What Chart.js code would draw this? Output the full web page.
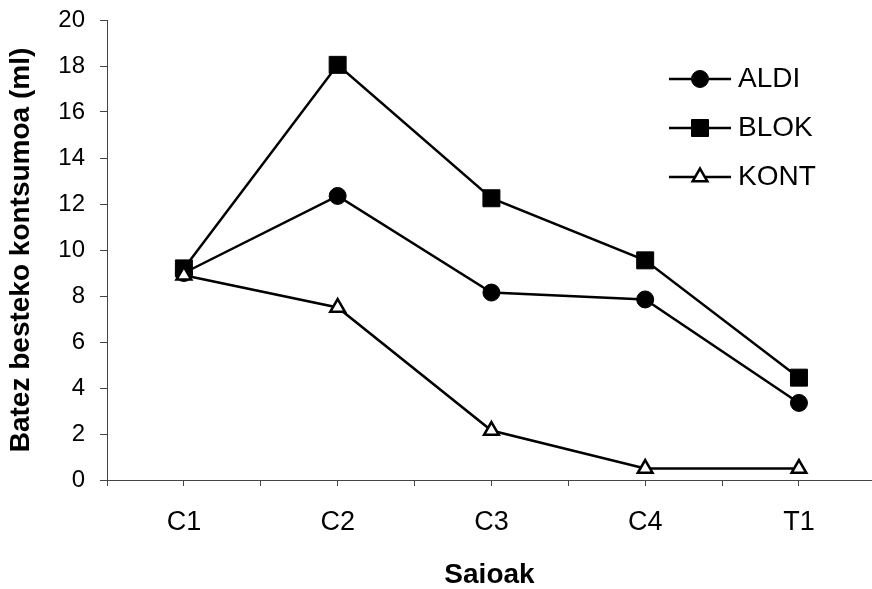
<!DOCTYPE html>
<html>
<head>
<meta charset="utf-8">
<script src="https://cdn.jsdelivr.net/npm/chart.js@4"></script>
<style>
  html, body { margin: 0; padding: 0; background: #fff; }
  #wrap { width: 872px; height: 589px; }
</style>
</head>
<body>
<div id="wrap"><canvas id="chart" width="872" height="589"></canvas></div>
<script>
const categories = ['C1', 'C2', 'C3', 'C4', 'T1'];
const aldi = [9.0, 12.35, 8.15, 7.85, 3.35];
const blok = [9.2, 18.05, 12.25, 9.55, 4.45];
const kont = [8.9, 7.5, 2.15, 0.5, 0.5];
const yTicks = [0, 2, 4, 6, 8, 10, 12, 14, 16, 18, 20];

const FONT = "'Liberation Sans', Arial, sans-serif";
const AXIS = '#444';

const toPoints = values => values.map((v, i) => ({ x: i, y: v }));

const series = [
  { label: 'ALDI', data: aldi, pointStyle: 'circle', radius: 8.5, fill: '#000', order: 2 },
  { label: 'BLOK', data: blok, pointStyle: 'rect', radius: 12, fill: '#000', order: 1 },
  { label: 'KONT', data: kont, pointStyle: 'triangle', radius: 8.5, fill: '#fff', order: 0 },
];

const datasets = series.map(s => ({
  label: s.label,
  data: toPoints(s.data),
  borderColor: '#000',
  borderWidth: 2.5,
  pointStyle: s.pointStyle,
  pointRadius: s.radius,
  pointHoverRadius: s.radius,
  pointBackgroundColor: s.fill,
  pointBorderColor: '#000',
  pointBorderWidth: s.pointStyle === 'triangle' ? 2.5 : 1,
  order: s.order,
  tension: 0,
  clip: false,
}));

// legend drawn as line + marker + text, like the original
const lineLegend = {
  id: 'lineLegend',
  afterDraw(chart) {
    const ctx = chart.ctx;
    const x0 = 669, x1 = 731, top = 79, step = 49;
    ctx.save();
    series.forEach((s, i) => {
      const y = top + i * step;
      ctx.strokeStyle = '#000';
      ctx.lineWidth = 2.5;
      ctx.beginPath();
      ctx.moveTo(x0, y);
      ctx.lineTo(x1, y);
      ctx.stroke();
      ctx.fillStyle = s.fill;
      ctx.strokeStyle = '#000';
      ctx.lineWidth = s.pointStyle === 'triangle' ? 2.5 : 1;
      Chart.helpers.drawPoint(ctx, { pointStyle: s.pointStyle, radius: s.radius, rotation: 0, borderWidth: ctx.lineWidth }, (x0 + x1) / 2, y);
      ctx.fillStyle = '#000';
      ctx.font = '28px ' + FONT;
      ctx.textBaseline = 'middle';
      ctx.textAlign = 'left';
      ctx.fillText(s.label, 738, y);
    });
    ctx.restore();
  },
};

new Chart(document.getElementById('chart').getContext('2d'), {
  type: 'line',
  data: { datasets },
  options: {
    responsive: false,
    animation: false,
    layout: { autoPadding: false, padding: { top: 20, right: 0, bottom: 0, left: 0 } },
    plugins: {
      legend: { display: false },
      tooltip: { enabled: false },
    },
    scales: {
      x: {
        type: 'linear',
        min: -0.5,
        max: 4.475,
        afterBuildTicks: scale => {
          const ticks = [];
          for (let v = -0.5; v <= categories.length - 1 + 1e-6; v += 0.5) ticks.push({ value: v });
          scale.ticks = ticks;
        },
        afterFit: scale => {
          scale.height = 109;
          scale.paddingLeft = 0;
          scale.paddingRight = 0;
        },
        ticks: {
          autoSkip: false,
          maxRotation: 0,
          padding: 20,
          color: '#000',
          font: { family: FONT, size: 27 },
          callback: value => (Number.isInteger(value) ? categories[value] : ''),
        },
        grid: { drawOnChartArea: false, drawTicks: true, tickLength: 6, color: AXIS, lineWidth: 1 },
        border: { display: true, color: AXIS, width: 1 },
        title: {
          display: true,
          text: 'Saioak',
          color: '#000',
          font: { family: FONT, size: 28, weight: 'bold' },
          padding: { top: 0, bottom: -3 },
        },
      },
      y: {
        min: 0,
        max: 20,
        afterBuildTicks: scale => { scale.ticks = yTicks.map(v => ({ value: v })); },
        afterFit: scale => {
          scale.width = 107;
          scale.paddingTop = 0;
          scale.paddingBottom = 0;
        },
        ticks: {
          padding: 15,
          color: '#000',
          font: { family: FONT, size: 24 },
        },
        grid: { drawOnChartArea: false, drawTicks: true, tickLength: 7, color: AXIS, lineWidth: 1 },
        border: { display: true, color: AXIS, width: 1 },
        title: {
          display: true,
          text: 'Batez besteko kontsumoa (ml)',
          color: '#000',
          font: { family: FONT, size: 28, weight: 'bold' },
          padding: { top: 4, bottom: 0 },
        },
      },
    },
  },
  plugins: [lineLegend],
});
</script>
</body>
</html>
